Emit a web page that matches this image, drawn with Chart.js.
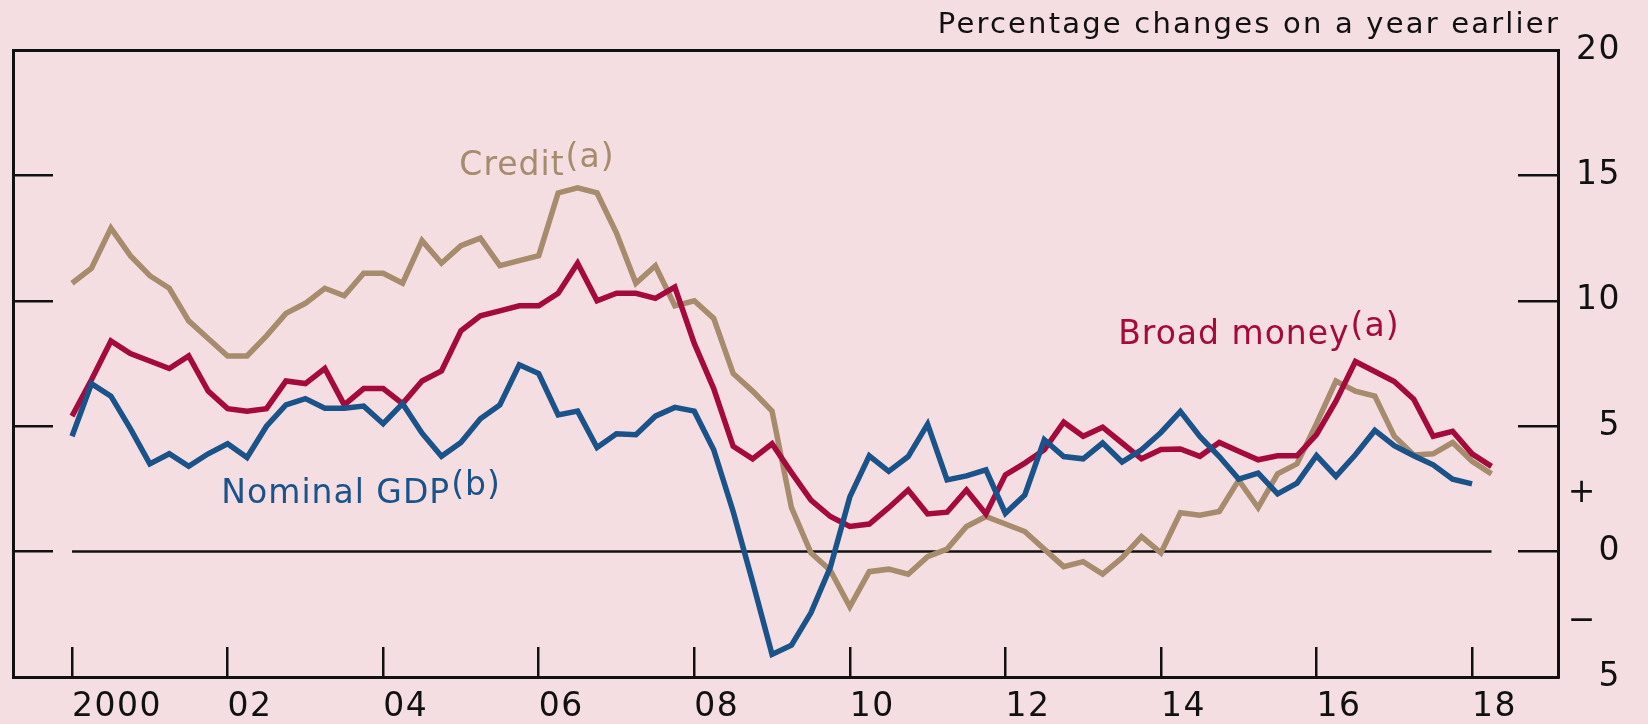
<!DOCTYPE html>
<html lang="en">
<head>
  <meta charset="UTF-8">
  <title>Broad money, credit and nominal GDP</title>
  <script src="https://cdn.jsdelivr.net/npm/chart.js"></script>
  <style>
    html, body { margin: 0; padding: 0; background: #f5dee1; }
    canvas { display: block; }
  </style>
</head>
<body>
  <canvas id="moneyChart" width="1648" height="724"></canvas>

  <script>
// quarterly data, first point is 2000 Q1
const firstYear = 2000;

const credit = [10.7, 11.3, 12.9, 11.8, 11.0, 10.5, 9.2, 8.5, 7.8, 7.8,
  8.6, 9.5, 9.9, 10.5, 10.2, 11.1, 11.1, 10.7, 12.4, 11.5,
  12.2, 12.5, 11.4, 11.6, 11.8, 14.3, 14.5, 14.3, 12.7, 10.7,
  11.4, 9.8, 10.0, 9.3, 7.1, 6.4, 5.6, 1.75, -0.05, -0.75,
  -2.2, -0.8, -0.7, -0.9, -0.2, 0.1, 1.0, 1.4, 1.1, 0.8,
  0.1, -0.6, -0.4, -0.9, -0.25, 0.6, -0.05, 1.55, 1.45, 1.6,
  2.85, 1.75, 3.1, 3.5, 5.1, 6.8, 6.4, 6.2, 4.6, 3.85,
  3.9, 4.35, 3.6, 3.1];

const broadMoney = [5.4, 6.85, 8.4, 7.9, 7.6, 7.3, 7.8, 6.4, 5.7, 5.6,
  5.7, 6.8, 6.7, 7.3, 5.85, 6.5, 6.5, 5.9, 6.8, 7.2,
  8.8, 9.4, 9.6, 9.8, 9.8, 10.3, 11.5, 10.0, 10.3, 10.3,
  10.1, 10.55, 8.3, 6.5, 4.2, 3.7, 4.3, 3.15, 2.05, 1.4,
  1.0, 1.1, 1.75, 2.46, 1.5, 1.57, 2.46, 1.5, 3.06, 3.53,
  4.06, 5.16, 4.6, 4.96, 4.33, 3.7, 4.07, 4.09, 3.8, 4.35,
  4.0, 3.66, 3.82, 3.82, 4.66, 6.0, 7.58, 7.18, 6.78, 6.08,
  4.6, 4.8, 3.9, 3.4];

const nominalGdp = [4.6, 6.7, 6.2, 4.9, 3.5, 3.9, 3.4, 3.9, 4.3, 3.75,
  5.0, 5.85, 6.1, 5.72, 5.72, 5.8, 5.1, 5.9, 4.72, 3.8,
  4.35, 5.3, 5.85, 7.45, 7.1, 5.45, 5.6, 4.15, 4.7, 4.66,
  5.4, 5.75, 5.6, 4.06, 1.6, -1.2, -4.1, -3.73, -2.44, -0.62,
  2.18, 3.82, 3.2, 3.79, 5.08, 2.86, 3.02, 3.26, 1.53, 2.26,
  4.46, 3.79, 3.7, 4.33, 3.57, 4.06, 4.75, 5.59, 4.59, 3.79,
  2.89, 3.13, 2.3, 2.73, 3.83, 3.0, 3.86, 4.83, 4.22, 3.82,
  3.46, 2.89, 2.7];

const xTickYears = [2000, 2002, 2004, 2006, 2008, 2010, 2012, 2014, 2016, 2018];
const xTickLabels = ['2000', '02', '04', '06', '08', '10', '12', '14', '16', '18'];
const yTickValues = [-5, -2.8, 0, 2.3, 5, 10, 15, 20];
const yTickLabels = ['5', '\u2212  ', '0', '+  ', '5', '10', '15', '20'];
const yMarked = [0, 5, 10, 15];

const seriesLabels = ['Credit', 'Broad money', 'Nominal GDP'];
const seriesNotes = ['(a)', '(a)', '(b)'];
const labelAt = [[2004.98, 15.0], [2013.45, 8.29], [2001.92, 1.95]];

const TAN = '#a68b6c';
const RED = '#a50a3c';
const BLUE = '#1a528a';
const INK = '#111111';
const BG = '#f5dee1';
const FONT = 'DejaVu Sans';
const SPACING = '1.5px';

function toPoints(values) {
  return values.map((v, i) => ({ x: firstYear + i / 4, y: v }));
}

const tickColour = ctx => (ctx.tick && yMarked.includes(ctx.tick.value)) ? INK : 'rgba(0,0,0,0)';

const paper = {
  id: 'paper',
  beforeUpdate(chart) { chart.ctx.letterSpacing = SPACING; },
  beforeDraw(chart) {
    const ctx = chart.ctx;
    ctx.save();
    ctx.fillStyle = BG;
    ctx.fillRect(0, 0, chart.width, chart.height);
    ctx.restore();
    ctx.letterSpacing = SPACING;
  },
  afterDraw(chart) {
    const ctx = chart.ctx;
    const xs = chart.scales.x, ys = chart.scales.y;
    const colours = [TAN, RED, BLUE];
    ctx.save();
    ctx.textBaseline = 'alphabetic';
    ctx.letterSpacing = '2.2px';
    ctx.font = '29px "' + FONT + '"';
    ctx.fillStyle = INK;
    ctx.textAlign = 'right';
    ctx.fillText('Percentage changes on a year earlier', chart.chartArea.right + 2, 33);

    ctx.letterSpacing = '1px';
    ctx.font = '33px "' + FONT + '"';
    ctx.textAlign = 'left';
    seriesLabels.forEach((t, i) => {
      const px = xs.getPixelForValue(labelAt[i][0]);
      const py = ys.getPixelForValue(labelAt[i][1]);
      ctx.fillStyle = colours[i];
      ctx.fillText(t, px, py);
      const w = ctx.measureText(t).width;
      ctx.fillText(seriesNotes[i], px + w + 1, py - 8);
    });
    ctx.restore();
  }
};

const lastX = firstYear + (credit.length - 1) / 4;

new Chart(document.getElementById('moneyChart').getContext('2d'), {
  type: 'line',
  data: {
    datasets: [
      { label: 'zero', data: [{ x: firstYear, y: 0 }, { x: lastX, y: 0 }],
        borderColor: INK, borderWidth: 2.5, order: 10, xAxisID: 'x', yAxisID: 'y' },
      { label: 'Credit', data: toPoints(credit), borderColor: TAN, borderWidth: 5.5,
        order: 3, xAxisID: 'x', yAxisID: 'y' },
      { label: 'Broad money', data: toPoints(broadMoney), borderColor: RED, borderWidth: 5.5,
        order: 2, xAxisID: 'x', yAxisID: 'y' },
      { label: 'Nominal GDP', data: toPoints(nominalGdp), borderColor: BLUE, borderWidth: 5.5,
        order: 1, xAxisID: 'x', yAxisID: 'y' }
    ]
  },
  options: {
    responsive: false,
    animation: false,
    devicePixelRatio: 1,
    layout: { padding: { left: 13, right: 27, top: 50, bottom: 0 } },
    elements: { point: { radius: 0 }, line: { tension: 0 } },
    plugins: { legend: { display: false }, tooltip: { enabled: false } },
    scales: {
      x: {
        type: 'linear', position: 'bottom', min: 1999.241, max: 2019.105,
        afterBuildTicks: s => { s.ticks = xTickYears.map(v => ({ value: v })); },
        afterFit: s => { s.height = 47; s.paddingLeft = 0; s.paddingRight = 0; },
        ticks: {
          callback: (v, i) => xTickLabels[i],
          align: 'start', autoSkip: false, maxRotation: 0, padding: 41,
          color: INK, font: { family: FONT, size: 33 }
        },
        grid: { drawOnChartArea: false, tickLength: -30, color: INK, lineWidth: 2.5 },
        border: { display: true, color: INK, width: 3 }
      },
      xt: {
        type: 'linear', position: 'top', min: 1999.241, max: 2019.105,
        afterFit: s => { s.height = 0; s.paddingLeft = 0; s.paddingRight = 0; },
        ticks: { display: false },
        grid: { display: false },
        border: { display: true, color: INK, width: 3 }
      },
      y: {
        type: 'linear', position: 'right', min: -5, max: 20,
        afterBuildTicks: s => { s.ticks = yTickValues.map(v => ({ value: v })); },
        afterFit: s => { s.width = 63; s.paddingTop = 0; s.paddingBottom = 0; },
        ticks: {
          callback: (v, i) => yTickLabels[i],
          crossAlign: 'far', padding: 10, autoSkip: false,
          color: INK, font: { family: FONT, size: 33 }
        },
        grid: { drawOnChartArea: false, tickLength: -40, color: tickColour, tickColor: tickColour, lineWidth: 2.5 },
        border: { display: true, color: INK, width: 3 }
      },
      yl: {
        type: 'linear', position: 'left', min: -5, max: 20,
        afterBuildTicks: s => { s.ticks = yTickValues.map(v => ({ value: v })); },
        afterFit: s => { s.width = 0; s.paddingTop = 0; s.paddingBottom = 0; },
        ticks: { display: false },
        grid: { drawOnChartArea: false, tickLength: -40, color: tickColour, tickColor: tickColour, lineWidth: 2.5 },
        border: { display: true, color: INK, width: 3 }
      }
    }
  },
  plugins: [paper]
});
  </script>
</body>
</html>
